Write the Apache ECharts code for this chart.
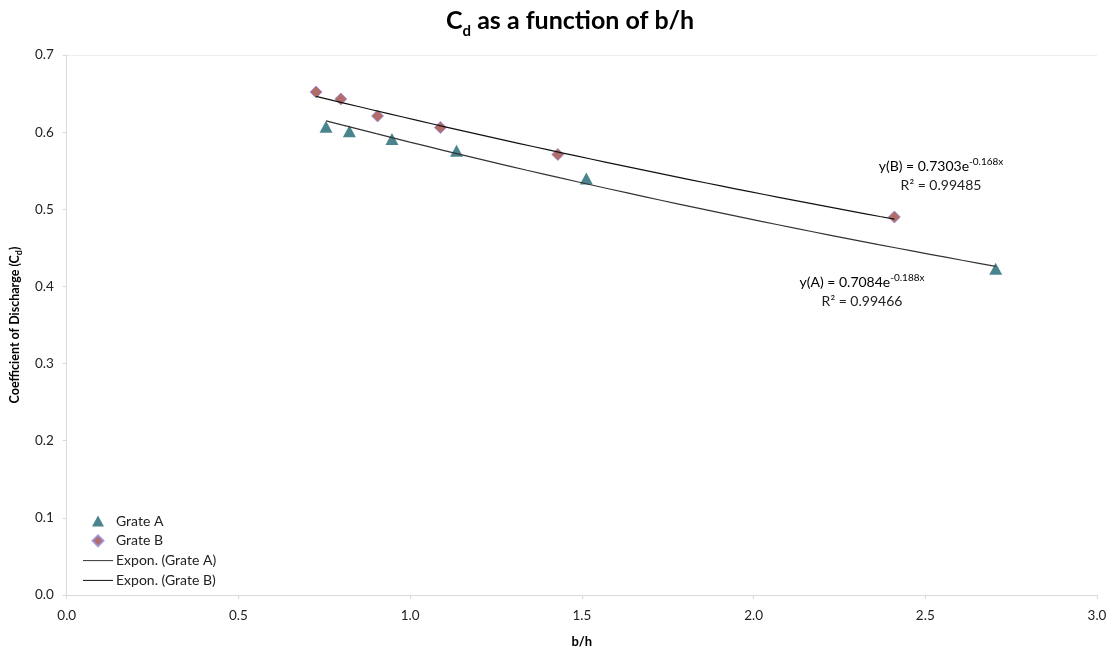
<!DOCTYPE html>
<html>
<head>
<meta charset="utf-8">
<script src="https://cdn.jsdelivr.net/npm/echarts@6/dist/echarts.min.js"></script>
<style>
  html, body { margin: 0; padding: 0; background: #fff; }
  #chart { width: 1115px; height: 653px; }
</style>
</head>
<body>
<div id="chart"></div>
<script>
// Measured discharge coefficient against b/h for two grates
const gradeAx = [0.755, 0.823, 0.947, 1.135, 1.513, 2.705];
const gradeAy = [0.607, 0.601, 0.591, 0.576, 0.540, 0.423];
const gradeBx = [0.726, 0.798, 0.905, 1.088, 1.430, 2.410];
const gradeBy = [0.652, 0.643, 0.621, 0.606, 0.571, 0.490];

// Exponential trend coefficients y = a * e^(b x)
const fitA = { a: 0.7084, b: -0.188, r2: '0.99466' };
const fitB = { a: 0.7303, b: -0.168, r2: '0.99485' };

const xTicks = { min: 0, max: 3, interval: 0.5 };
const yTicks = { min: 0, max: 0.7, interval: 0.1 };

function pairs(xs, ys) { return xs.map((x, i) => [x, ys[i]]); }

function trend(fit, xs) {
  const lo = Math.min(...xs), hi = Math.max(...xs);
  const n = 40, out = [];
  for (let i = 0; i <= n; i++) {
    const x = lo + (hi - lo) * i / n;
    out.push([x, fit.a * Math.exp(fit.b * x)]);
  }
  return out;
}

const FONT = 'Lato';
const TXT = '#222';
const chart = echarts.init(document.getElementById('chart'));

// Two-line equation label: y = a e^(bx) and R²
function eqText(tag, fit, x, y) {
  const rich = {
    m: { fontFamily: FONT, fontSize: 14, color: TXT },
    p: { fontFamily: FONT, fontSize: 10, color: TXT, padding: [0, 0, 8, 0] }
  };
  return [
    {
      type: 'text', x: x, y: y,
      style: {
        text: '{m|y(' + tag + ') = ' + fit.a.toFixed(4) + 'e}{p|' + fit.b.toFixed(3) + 'x}',
        align: 'center', verticalAlign: 'middle', rich: rich
      }
    },
    {
      type: 'text', x: x, y: y + 19,
      style: {
        text: 'R² = ' + fit.r2,
        align: 'center', verticalAlign: 'middle',
        font: '14px ' + FONT, fill: TXT
      }
    }
  ];
}

const lineIcon = 'path://M0,0L30,0L30,1L0,1Z';

chart.setOption({
  animation: false,
  textStyle: { fontFamily: FONT },
  title: {
    text: '{m|C}{s|d}{m| as a function of b/h}',
    left: 446,
    top: 8,
    padding: 0,
    textStyle: {
      rich: {
        m: { fontFamily: FONT, fontSize: 25, fontWeight: 'bold', color: '#000', verticalAlign: 'bottom' },
        s: { fontFamily: FONT, fontSize: 15, fontWeight: 'bold', color: '#000', verticalAlign: 'bottom', padding: [0, 0, -6, 0] }
      }
    }
  },
  grid: { left: 66, right: 18, top: 55, bottom: 57 },
  xAxis: {
    type: 'value',
    min: xTicks.min, max: xTicks.max, interval: xTicks.interval,
    name: 'b/h',
    nameLocation: 'middle',
    nameGap: 40,
    nameTextStyle: { fontFamily: FONT, fontWeight: 'bold', fontSize: 13, color: '#000' },
    axisLine: { lineStyle: { color: '#d9d9d9' } },
    axisTick: { show: true, length: 4, lineStyle: { color: '#d9d9d9' } },
    axisLabel: { color: TXT, fontSize: 13.5, margin: 14, formatter: v => v.toFixed(1) },
    splitLine: { show: false }
  },
  yAxis: {
    type: 'value',
    min: yTicks.min, max: yTicks.max, interval: yTicks.interval,
    name: '{m|Coefficient of Discharge (C}{s|d}{m|)}',
    nameLocation: 'middle',
    nameRotate: 90,
    nameGap: 39,
    nameTextStyle: {
      rich: {
        m: { fontFamily: FONT, fontWeight: 'bold', fontSize: 12.5, color: '#000', verticalAlign: 'bottom' },
        s: { fontFamily: FONT, fontWeight: 'bold', fontSize: 9, color: '#000', verticalAlign: 'bottom', padding: [0, 0, -3, 0] }
      }
    },
    axisLine: { show: true, lineStyle: { color: '#d9d9d9' } },
    axisTick: { show: true, length: 4, lineStyle: { color: '#d9d9d9' } },
    axisLabel: { color: TXT, fontSize: 13.5, margin: 13, formatter: v => v.toFixed(1) },
    splitLine: {
      show: true,
      lineStyle: { color: ['transparent', 'transparent', 'transparent', 'transparent', 'transparent', 'transparent', 'transparent', '#ececec'] }
    }
  },
  legend: {
    orient: 'vertical',
    left: 83,
    top: 513,
    padding: 0,
    itemWidth: 30,
    itemHeight: 11,
    itemGap: 3.8,
    symbolKeepAspect: true,
    textStyle: { fontFamily: FONT, fontSize: 14, lineHeight: 16, color: TXT, padding: [0, 0, 0, -2] },
    data: [
      { name: 'Grate A', icon: 'path://M6,0L12,11L0,11Z' },
      { name: 'Grate B', icon: 'path://M6,0L12,6L6,12L0,6Z' },
      { name: 'Expon. (Grate A)', icon: lineIcon },
      { name: 'Expon. (Grate B)', icon: lineIcon }
    ]
  },
  series: [
    {
      name: 'Expon. (Grate A)',
      type: 'line',
      data: trend(fitA, gradeAx),
      showSymbol: false,
      symbol: 'none',
      lineStyle: { color: '#333', width: 1.2 },
      itemStyle: { color: '#333' },
      z: 3
    },
    {
      name: 'Expon. (Grate B)',
      type: 'line',
      data: trend(fitB, gradeBx),
      showSymbol: false,
      symbol: 'none',
      lineStyle: { color: '#111', width: 1.2 },
      itemStyle: { color: '#111' },
      z: 3
    },
    {
      name: 'Grate A',
      type: 'scatter',
      data: pairs(gradeAx, gradeAy),
      symbol: 'triangle',
      symbolSize: [13, 12],
      itemStyle: { color: '#1D6670' },
      z: 2
    },
    {
      name: 'Grate B',
      type: 'scatter',
      data: pairs(gradeBx, gradeBy),
      symbol: 'diamond',
      symbolSize: 12,
      itemStyle: { color: '#9E4843', borderColor: '#9B8CDB', borderWidth: 1 },
      z: 2
    }
  ],
  graphic: eqText('B', fitB, 941, 166).concat(eqText('A', fitA, 862, 282))
});
</script>
</body>
</html>
